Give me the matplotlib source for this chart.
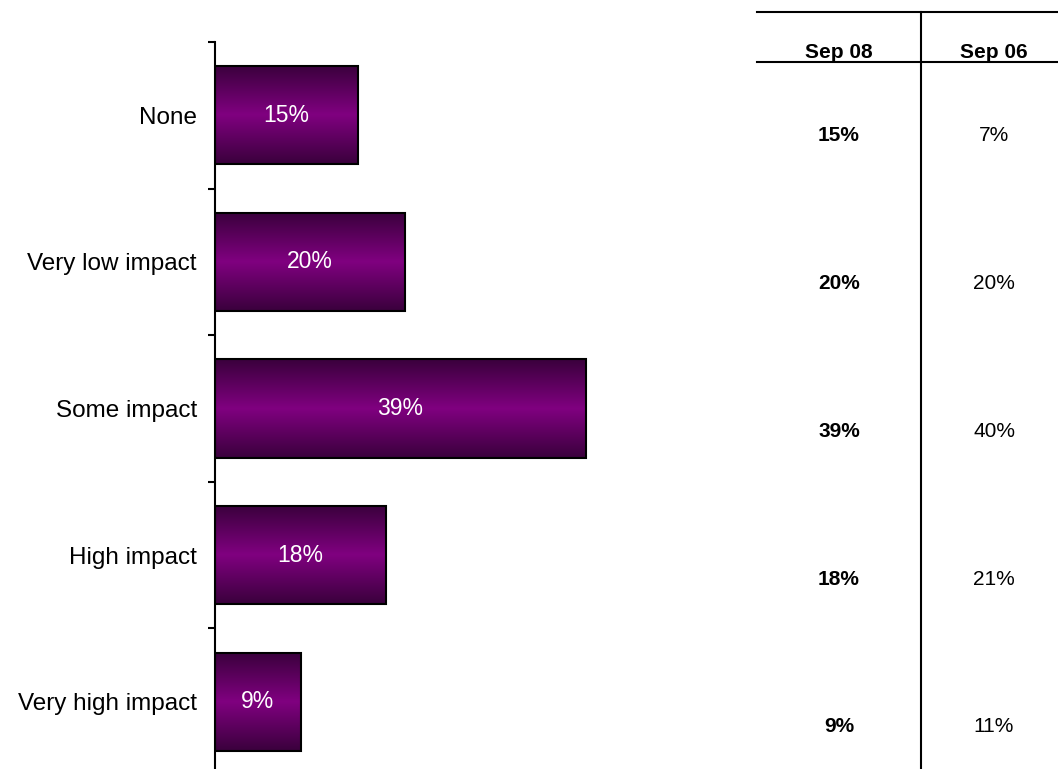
import matplotlib.pyplot as plt
import numpy as np
from matplotlib.colors import LinearSegmentedColormap

categories = ['None', 'Very low impact', 'Some impact', 'High impact', 'Very high impact']
sep08 = [15, 20, 39, 18, 9]
sep06 = [7, 20, 40, 21, 11]
columns = ['Sep 08', 'Sep 06']

plt.rcParams['font.family'] = ['Liberation Sans', 'DejaVu Sans']

W, H = 1058, 769
fig = plt.figure(figsize=(W / 100, H / 100), dpi=100)

# bar chart axes: left edge at x=215, top at y=42, runs past the bottom edge
ax = fig.add_axes([215 / W, (H - 775) / H, 475 / W, 733 / H])
y = np.arange(len(categories))
bars = ax.barh(y, sep08, height=0.67, color='none', edgecolor='black', linewidth=1.5, zorder=3)

cmap = LinearSegmentedColormap.from_list('purp', ['#3a003c', '#800080', '#3a003c'])
grad = np.linspace(0, 1, 400).reshape(-1, 1)
for b, v in zip(bars, sep08):
    x0, y0 = b.get_x(), b.get_y()
    w, h = b.get_width(), b.get_height()
    ax.imshow(grad, cmap=cmap, aspect='auto', extent=[x0, x0 + w, y0 + h, y0],
              zorder=2, interpolation='bilinear')
    ax.text(x0 + w / 2, y0 + h / 2, f'{v}%', color='white', fontsize=16.5,
            ha='center', va='center', zorder=4)
ax.set_xlim(0, 50)
ax.set_ylim(len(categories) - 0.5, -0.5)

for s in ['top', 'right', 'bottom']:
    ax.spines[s].set_visible(False)
ax.spines['left'].set_linewidth(1.5)
ax.set_xticks([])
ax.set_yticks(np.arange(len(categories) + 1) - 0.5)
ax.set_yticklabels([])
ax.tick_params(axis='y', which='major', length=5, width=1.5, direction='out')
ax.set_yticks(y, minor=True)
ax.set_yticklabels(categories, minor=True, fontsize=17.5)
ax.tick_params(axis='y', which='minor', length=0, pad=13)

# side table
tax = fig.add_axes([757 / W, 0, (W - 757) / W, (H - 62) / H])
tax.set_xlim(757, W)
tax.set_ylim(H, 62)
tax.axis('off')
ytop = 1 - 12 / H
yhead = 1 - 62 / H
xdiv = 921 / W
fig.add_artist(plt.Line2D([757 / W, 1], [ytop, ytop], color='black', lw=1.5))
fig.add_artist(plt.Line2D([757 / W, 1], [yhead, yhead], color='black', lw=1.5))
fig.add_artist(plt.Line2D([xdiv, xdiv], [0, ytop], color='black', lw=1.5))
col_x = [839, 994]
for cx, name in zip(col_x, columns):
    fig.text(cx / W, 1 - 52 / H, name, ha='center', va='center', fontsize=15, fontweight='bold')
row_y = np.linspace(136, 727, len(categories))
for ry, a, b in zip(row_y, sep08, sep06):
    tax.text(col_x[0], ry, f'{a}%', ha='center', va='center', fontsize=15, fontweight='bold')
    tax.text(col_x[1], ry, f'{b}%', ha='center', va='center', fontsize=15)

fig.savefig('out.png', dpi=100)
